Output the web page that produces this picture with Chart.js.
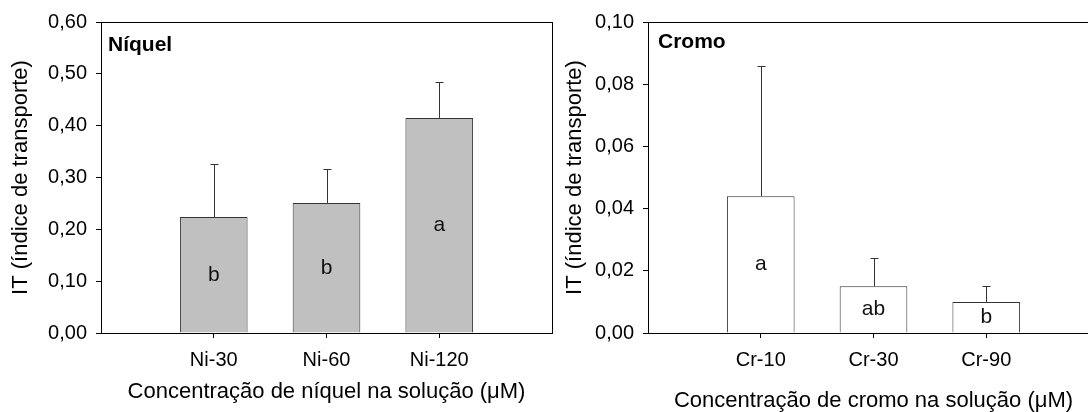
<!DOCTYPE html>
<html>
<head>
<meta charset="utf-8">
<script src="https://cdn.jsdelivr.net/npm/chart.js@4"></script>
<style>
  html, body { margin: 0; padding: 0; background: #fff; }
  #wrap { position: relative; width: 1088px; height: 412px; overflow: hidden; }
  .panel { position: absolute; top: 0; height: 412px; }
  #niBox { left: 0; width: 560px; }
  #crBox { left: 552px; width: 560px; }
</style>
</head>
<body>
<div id="wrap">
  <div class="panel" id="niBox"><canvas id="niChart"></canvas></div>
  <div class="panel" id="crBox"><canvas id="crChart"></canvas></div>
</div>
<script>
// níquel
const niLabels = ['Ni-30', 'Ni-60', 'Ni-120'];
const niValues = [0.224, 0.251, 0.415];
const niErrors = [0.102, 0.065, 0.069];
const niLetters = ['b', 'b', 'a'];
const niTicks = [0, 0.1, 0.2, 0.3, 0.4, 0.5, 0.6];

// cromo
const crLabels = ['Cr-10', 'Cr-30', 'Cr-90'];
const crValues = [0.044, 0.015, 0.010];
const crErrors = [0.042, 0.009, 0.005];
const crLetters = ['a', 'ab', 'b'];
const crTicks = [0, 0.02, 0.04, 0.06, 0.08, 0.1];

const FONT = "'Liberation Sans', Arial, sans-serif";

function makePanel(canvasId, p) {
    // desenha moldura, barras de erro, letras e o nome do metal
    const extras = {
        id: 'extras',
        afterDatasetsDraw(chart) {
            const ctx = chart.ctx;
            const y = chart.scales.y;
            const a = chart.chartArea;
            const bars = chart.getDatasetMeta(0).data;
            ctx.save();
            ctx.strokeStyle = '#333';
            ctx.lineWidth = 1;
            bars.forEach((bar, i) => {
                const x = Math.round(bar.x) + 0.5;
                const top = Math.round(y.getPixelForValue(p.values[i] + p.errors[i])) + 0.5;
                ctx.beginPath();
                ctx.moveTo(x, bar.y);
                ctx.lineTo(x, top);
                ctx.moveTo(x - 4, top);
                ctx.lineTo(x + 4, top);
                ctx.stroke();
            });
            ctx.fillStyle = '#111';
            ctx.font = '21px ' + FONT;
            ctx.textAlign = 'center';
            ctx.textBaseline = 'middle';
            bars.forEach((bar, i) => {
                ctx.fillText(p.letters[i], bar.x, y.getPixelForValue(p.values[i] / 2));
            });
            ctx.font = 'bold 21px ' + FONT;
            ctx.textAlign = 'left';
            ctx.textBaseline = 'alphabetic';
            ctx.fillStyle = '#000';
            ctx.fillText(p.name, a.left + p.nameDx, a.top + p.nameDy);
            ctx.strokeStyle = '#000';
            const l = Math.round(a.left - 0.5) + 0.5;
            const t = Math.round(a.top - 0.5) + 0.5;
            const r = Math.round(a.right - 0.5) + 0.5;
            const b = Math.round(a.bottom - 0.5) + 0.5;
            ctx.strokeRect(l, t, r - l, b - t);
            ctx.restore();
        }
    };

    return new Chart(document.getElementById(canvasId), {
        type: 'bar',
        data: {
            datasets: [{
                data: p.values.map((v, i) => ({ x: i + 1, y: v })),
                backgroundColor: p.fill,
                borderColor: '#333',
                borderWidth: 1,
                barPercentage: 0.6,
                categoryPercentage: 1,
            }],
        },
        options: {
            responsive: true,
            maintainAspectRatio: false,
            animation: false,
            layout: { padding: { top: 22, right: p.padRight, left: 0, bottom: 0 } },
            plugins: {
                legend: { display: false },
                tooltip: { enabled: false },
            },
            scales: {
                x: {
                    type: 'linear',
                    min: 0,
                    max: 4,
                    offset: false,
                    afterBuildTicks: (s) => { s.ticks = p.labels.map((l, i) => ({ value: i + 1 })); },
                    afterFit: (s) => { s.height = 79; },
                    ticks: {
                        callback: (v) => p.labels[v - 1],
                        color: '#000',
                        font: { family: FONT, size: 20 },
                        padding: 10,
                        autoSkip: false,
                        maxRotation: 0,
                    },
                    grid: { offset: false, drawOnChartArea: false, tickLength: 5, color: '#000' },
                    border: { color: '#000', width: 1 },
                    title: {
                        display: true,
                        text: p.xTitle,
                        color: '#000',
                        font: { family: FONT, size: 22, lineHeight: 1 },
                        padding: { top: 0, bottom: p.xTitlePad },
                    },
                },
                y: {
                    min: 0,
                    max: p.ticks[p.ticks.length - 1],
                    afterBuildTicks: (s) => { s.ticks = p.ticks.map((v) => ({ value: v })); },
                    afterFit: (s) => { s.width = p.yWidth; },
                    ticks: {
                        callback: (v) => v.toFixed(2).replace('.', ','),
                        color: '#000',
                        font: { family: FONT, size: 20 },
                        padding: 9,
                    },
                    grid: { drawOnChartArea: false, tickLength: 5, color: '#000' },
                    border: { color: '#000', width: 1 },
                    title: {
                        display: true,
                        text: 'IT (índice de transporte)',
                        color: '#000',
                        font: { family: FONT, size: 22, lineHeight: 1 },
                        padding: { top: p.yTitlePad, bottom: 0 },
                    },
                },
            },
        },
        plugins: [extras],
    });
}

makePanel('niChart', {
    labels: niLabels, values: niValues, errors: niErrors, letters: niLetters, ticks: niTicks,
    name: 'Níquel', nameDx: 7, nameDy: 29, fill: '#c0c0c0',
    xTitle: 'Concentração de níquel na solução (μM)', xTitlePad: 9,
    yWidth: 101, yTitlePad: 10, padRight: 8,
});

makePanel('crChart', {
    labels: crLabels, values: crValues, errors: crErrors, letters: crLetters, ticks: crTicks,
    name: 'Cromo', nameDx: 10, nameDy: 26, fill: '#ffffff',
    xTitle: 'Concentração de cromo na solução (μM)', xTitlePad: 0,
    yWidth: 96, yTitlePad: 12, padRight: 13,
});
</script>
</body>
</html>
